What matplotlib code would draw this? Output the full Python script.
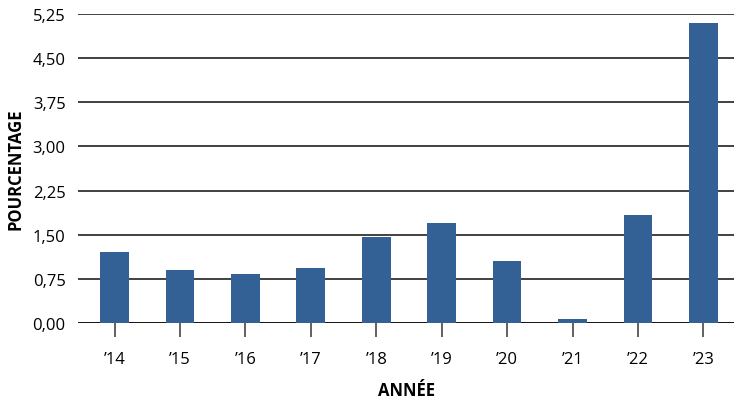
import matplotlib
matplotlib.use("Agg")
import matplotlib.pyplot as plt

years = ["\u201914", "\u201915", "\u201916", "\u201917", "\u201918",
         "\u201919", "\u201920", "\u201921", "\u201922", "\u201923"]
values = [1.20, 0.90, 0.83, 0.93, 1.46, 1.70, 1.05, 0.07, 1.83, 5.09]
yticks = [0, 0.75, 1.5, 2.25, 3.0, 3.75, 4.5, 5.25]

plt.rcParams["font.family"] = ["Open Sans", "DejaVu Sans"]

fig = plt.figure(figsize=(7.43, 4.02), dpi=100)
ax = fig.add_axes([0.105, 0.194, 0.883, 0.769])

x = list(range(len(years)))
ax.bar(x, values, width=0.44, color="#336195", zorder=3)

for t in yticks:
    ax.axhline(t, color="#333333" if t > 0 else "#000000", lw=1.3, zorder=2)

ax.set_xlim(-0.56, 9.47)
ax.set_ylim(0, 5.25)
ax.set_yticks(yticks)
ax.set_yticklabels([("%.2f" % t).replace(".", ",") for t in yticks], fontsize=12)
ax.set_xticks(x)
ax.set_xticklabels(years, fontsize=12)

for s in ax.spines.values():
    s.set_visible(False)
ax.tick_params(axis="y", length=0, pad=9)
ax.tick_params(axis="x", direction="out", length=10, width=1.3, color="#555555", pad=10)

ax.set_xlabel("ANNÉE", fontsize=12, fontweight="bold", labelpad=10)
ax.set_ylabel("POURCENTAGE", fontsize=12, fontweight="bold", labelpad=6)

fig.savefig("out.png", dpi=100)
